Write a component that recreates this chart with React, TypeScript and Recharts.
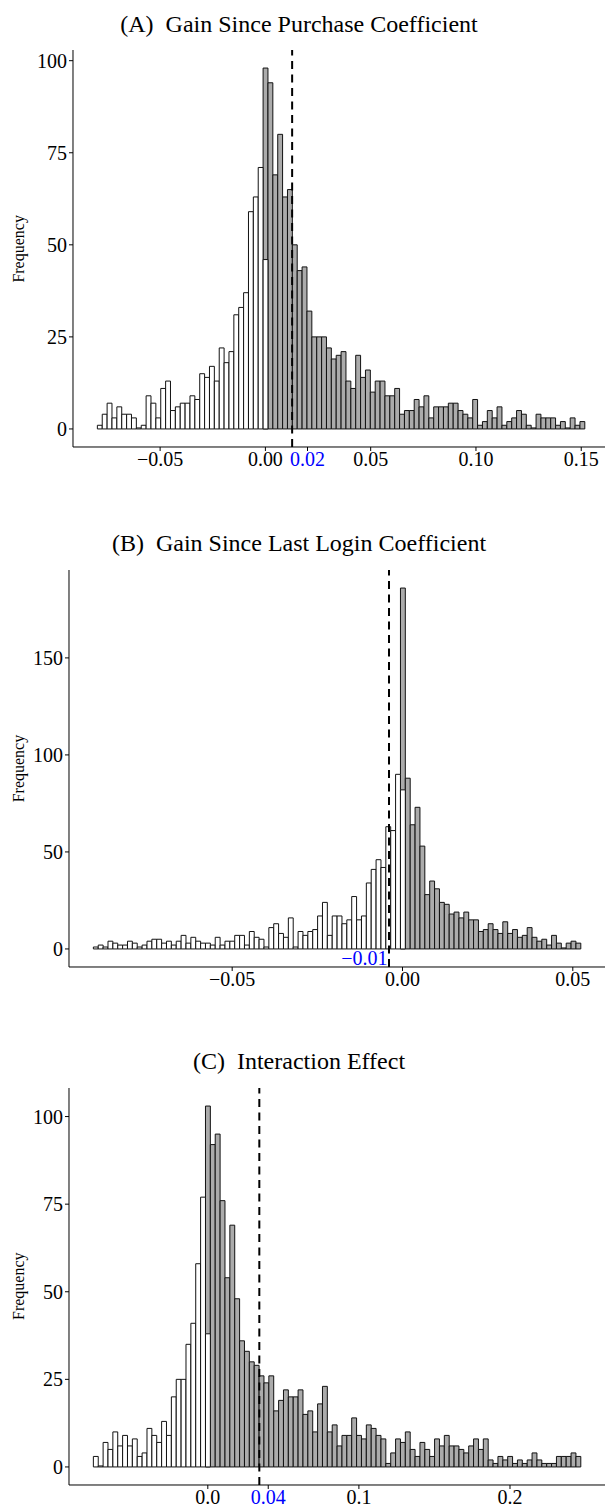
import React from 'react';
import { ComposedChart, Bar, XAxis, YAxis, ReferenceLine, ReferenceDot } from 'recharts';

const FONT = '"Liberation Serif", "Times New Roman", Times, serif';
const BLUE = '#0000FF';
const GRAY = '#ABABAB';

// ---------- Panel A : Gain Since Purchase Coefficient ----------
const titleA = '(A)\u00A0\u00A0Gain Since Purchase Coefficient';
const binStartA = -0.0798;
const binWidthA = 0.002315;
// counts of negative coefficients (white), last entry is the bin that straddles zero
const whiteA = [1, 4, 7, 3, 6, 4, 4, 3, 0, 1, 9, 7, 3, 11, 13, 5, 6, 7, 7, 9, 8, 15, 14, 17, 13, 22, 18, 21, 31, 33, 37, 59, 63, 71, 46];
// counts of positive coefficients (gray), first entry is the bin that straddles zero
const grayA = [98, 94, 69, 80, 63, 65, 50, 43, 44, 32, 25, 25, 25, 22, 19, 20, 21, 13, 11, 20, 14, 16, 10, 13, 13, 9, 9, 11, 4, 5, 5, 8, 6, 9, 3, 6, 6, 6, 7, 7, 5, 4, 3, 8, 1, 2, 5, 3, 6, 1, 2, 3, 5, 4, 1, 0, 4, 3, 3, 3, 1, 2, 0, 3, 1, 2];
const meanA = 0.0127;
const xTicksA = [-0.05, 0, 0.02, 0.05, 0.1, 0.15];
const xTickLabelsA = ['\u22120.05', '0.00', '0.02', '0.05', '0.10', '0.15'];
const blueTickA = 0.02;
const yTicksA = [0, 25, 50, 75, 100];

// ---------- Panel B : Gain Since Last Login Coefficient ----------
const titleB = '(B)\u00A0\u00A0Gain Since Last Login Coefficient';
const binStartB = -0.09075;
const binWidthB = 0.001431;
const whiteB = [1, 2, 1, 4, 3, 2, 2, 4, 3, 1, 2, 4, 5, 5, 3, 4, 2, 4, 7, 3, 6, 4, 3, 3, 2, 6, 2, 4, 4, 7, 7, 2, 9, 6, 5, 1, 11, 13, 8, 6, 16, 1, 9, 7, 9, 10, 17, 24, 7, 17, 17, 13, 15, 27, 15, 17, 34, 41, 46, 42, 63, 61, 90, 82];
const grayB = [186, 88, 64, 73, 53, 28, 35, 31, 24, 23, 18, 19, 16, 19, 15, 15, 9, 10, 13, 10, 8, 14, 8, 10, 6, 7, 11, 6, 4, 5, 2, 7, 3, 0, 3, 4, 3];
const meanB = -0.00396;
const meanLabelB = '\u22120.01';
const meanLabelXB = -0.0112;
const meanLabelYB = -4.9;
const xTicksB = [-0.05, 0, 0.05];
const xTickLabelsB = ['\u22120.05', '0.00', '0.05'];
const yTicksB = [0, 50, 100, 150];

// ---------- Panel C : Interaction Effect ----------
const titleC = '(C)\u00A0\u00A0Interaction Effect';
const binStartC = -0.07573;
const binWidthC = 0.003226;
const whiteC = [3, 0, 7, 5, 10, 6, 9, 6, 8, 3, 4, 11, 9, 7, 13, 9, 20, 25, 25, 35, 41, 58, 77, 38];
const grayC = [103, 92, 95, 76, 54, 69, 48, 36, 33, 30, 29, 26, 24, 26, 16, 19, 22, 20, 20, 22, 15, 16, 10, 18, 23, 10, 12, 6, 9, 9, 14, 9, 8, 12, 11, 9, 8, 1, 4, 8, 7, 10, 5, 3, 7, 5, 3, 8, 6, 9, 6, 6, 5, 4, 6, 8, 5, 8, 2, 1, 3, 2, 3, 1, 2, 1, 2, 4, 2, 1, 1, 1, 3, 3, 3, 4, 3];
const meanC = 0.0341;
const xTicksC = [0, 0.04, 0.1, 0.2];
const xTickLabelsC = ['0.0', '0.04', '0.1', '0.2'];
const blueTickC = 0.04;
const yTicksC = [0, 25, 50, 75, 100];

// ---------- layout ----------
const PLOT_W = 536.2;
const PLOT_H = 397;
const MARGIN_TOP = 10;
const AXIS_H = 40;
const TICK_FONT = 20;

function buildBins(start: number, width: number, white: number[], gray: number[]) {
  const grayOffset = white.length - 1;
  const n = white.length + gray.length - 1;
  return Array.from({ length: n }, (_, i) => ({
    bin: i,
    x: start + (i + 0.5) * width,
    white: i < white.length ? white[i] : null,
    gray: i >= grayOffset ? gray[i - grayOffset] : null,
  }));
}

const zeroBarMin = (value: any) => (value === 0 ? 1 : 0);

function makeXTick(ticks: number[], labels: string[], blue: number | null) {
  return (props: any) => {
    const { x, y, payload } = props;
    const i = ticks.indexOf(payload.value);
    const label = i >= 0 ? labels[i] : String(payload.value);
    return (
      <text
        x={x}
        y={y}
        dy="0.71em"
        textAnchor="middle"
        fill={payload.value === blue ? BLUE : '#000'}
        fontSize={TICK_FONT}
        fontFamily={FONT}
      >
        {label}
      </text>
    );
  };
}

type PanelProps = {
  left: number;
  plotTop: number;
  binStart: number;
  binWidth: number;
  white: number[];
  gray: number[];
  mean: number;
  xTicks: number[];
  xTickLabels: string[];
  blueTick: number | null;
  yTicks: number[];
  meanLabel?: string;
  meanLabelX?: number;
  meanLabelY?: number;
};

function Panel(p: PanelProps) {
  const data = buildBins(p.binStart, p.binWidth, p.white, p.gray);
  const n = data.length;
  const maxCount = Math.max(...p.white, ...p.gray);
  const span = n * p.binWidth;
  const xDomain = [p.binStart - 0.05 * span, p.binStart + 1.05 * span];
  const yDomain = [-0.05 * maxCount, 1.05 * maxCount];
  const pad = PLOT_W / 22;
  const band = (PLOT_W - 2 * pad) / n;
  const barSize = band - 0.01;
  const width = p.left + PLOT_W + 10;
  const height = MARGIN_TOP + PLOT_H + AXIS_H;
  const XTick = makeXTick(p.xTicks, p.xTickLabels, p.blueTick);

  return (
    <div style={{ position: 'absolute', left: 0, top: p.plotTop - MARGIN_TOP }}>
      <ComposedChart
        width={width}
        height={height}
        data={data}
        margin={{ top: MARGIN_TOP, right: 10, bottom: 0, left: 0 }}
      >
        <XAxis
          xAxisId="num"
          dataKey="x"
          type="number"
          domain={xDomain}
          allowDataOverflow
          ticks={p.xTicks}
          interval={0}
          height={AXIS_H}
          tickSize={4}
          tickMargin={1}
          tick={<XTick />}
          axisLine={{ stroke: '#000', strokeWidth: 1 }}
          tickLine={{ stroke: '#000', strokeWidth: 1 }}
        />
        <XAxis xAxisId="g" dataKey="bin" type="category" hide height={0} padding={{ left: pad, right: pad }} />
        <XAxis xAxisId="w" dataKey="bin" type="category" hide height={0} padding={{ left: pad, right: pad }} />
        <YAxis
          type="number"
          domain={yDomain}
          allowDataOverflow
          ticks={p.yTicks}
          interval={0}
          width={p.left}
          tickSize={4}
          tickMargin={2}
          tick={{ fill: '#000', fontSize: TICK_FONT, fontFamily: FONT }}
          axisLine={{ stroke: '#000', strokeWidth: 1 }}
          tickLine={{ stroke: '#000', strokeWidth: 1 }}
        />
        <Bar
          xAxisId="g"
          dataKey="gray"
          fill={GRAY}
          stroke="#111"
          strokeWidth={1}
          barSize={barSize}
          minPointSize={zeroBarMin}
          isAnimationActive={false}
        />
        <Bar
          xAxisId="w"
          dataKey="white"
          fill="#FFFFFF"
          stroke="#111"
          strokeWidth={1}
          barSize={barSize}
          minPointSize={zeroBarMin}
          isAnimationActive={false}
        />
        <ReferenceLine
          xAxisId="num"
          x={p.mean}
          stroke="#000"
          strokeWidth={2}
          strokeDasharray="8 5.5"
        />
        {p.meanLabel ? (
          <ReferenceDot
            xAxisId="num"
            x={p.meanLabelX}
            y={p.meanLabelY}
            r={0}
            fill="none"
            stroke="none"
            label={(lp: any) => {
              const vb = lp.viewBox || {};
              return (
                <text
                  x={vb.x + (vb.width || 0) / 2}
                  y={vb.y + (vb.height || 0) / 2}
                  dy="0.35em"
                  textAnchor="middle"
                  fill={BLUE}
                  fontSize={TICK_FONT}
                  fontFamily={FONT}
                >
                  {p.meanLabel}
                </text>
              );
            }}
          />
        ) : null}
      </ComposedChart>
    </div>
  );
}

const TITLE_FONT = 24;
const YLABEL_FONT = 16;

export default function App() {
  const panels = [
    { title: titleA, plotTop: 50.35 },
    { title: titleB, plotTop: 570.05 },
    { title: titleC, plotTop: 1087.75 },
  ];
  return (
    <div
      style={{
        position: 'absolute',
        left: 0,
        top: 0,
        width: 605,
        height: 1508,
        overflow: 'hidden',
        background: '#FFFFFF',
      }}
    >
      <Panel
        left={73}
        plotTop={50.35}
        binStart={binStartA}
        binWidth={binWidthA}
        white={whiteA}
        gray={grayA}
        mean={meanA}
        xTicks={xTicksA}
        xTickLabels={xTickLabelsA}
        blueTick={blueTickA}
        yTicks={yTicksA}
      />
      <Panel
        left={69}
        plotTop={570.05}
        binStart={binStartB}
        binWidth={binWidthB}
        white={whiteB}
        gray={grayB}
        mean={meanB}
        xTicks={xTicksB}
        xTickLabels={xTickLabelsB}
        blueTick={null}
        yTicks={yTicksB}
        meanLabel={meanLabelB}
        meanLabelX={meanLabelXB}
        meanLabelY={meanLabelYB}
      />
      <Panel
        left={69}
        plotTop={1087.75}
        binStart={binStartC}
        binWidth={binWidthC}
        white={whiteC}
        gray={grayC}
        mean={meanC}
        xTicks={xTicksC}
        xTickLabels={xTickLabelsC}
        blueTick={blueTickC}
        yTicks={yTicksC}
      />
      <svg
        width={605}
        height={1508}
        style={{ position: 'absolute', left: 0, top: 0, pointerEvents: 'none' }}
      >
        {panels.map((pn, i) => {
          const cy = pn.plotTop + PLOT_H / 2;
          return (
            <g key={i}>
              <text
                x={299}
                y={pn.plotTop - 18.7}
                textAnchor="middle"
                fontSize={TITLE_FONT}
                fontFamily={FONT}
                fill="#000"
              >
                {pn.title}
              </text>
              <text
                x={24}
                y={cy}
                transform={`rotate(-90 24 ${cy})`}
                textAnchor="middle"
                fontSize={YLABEL_FONT}
                fontFamily={FONT}
                fill="#000"
              >
                Frequency
              </text>
            </g>
          );
        })}
      </svg>
    </div>
  );
}
